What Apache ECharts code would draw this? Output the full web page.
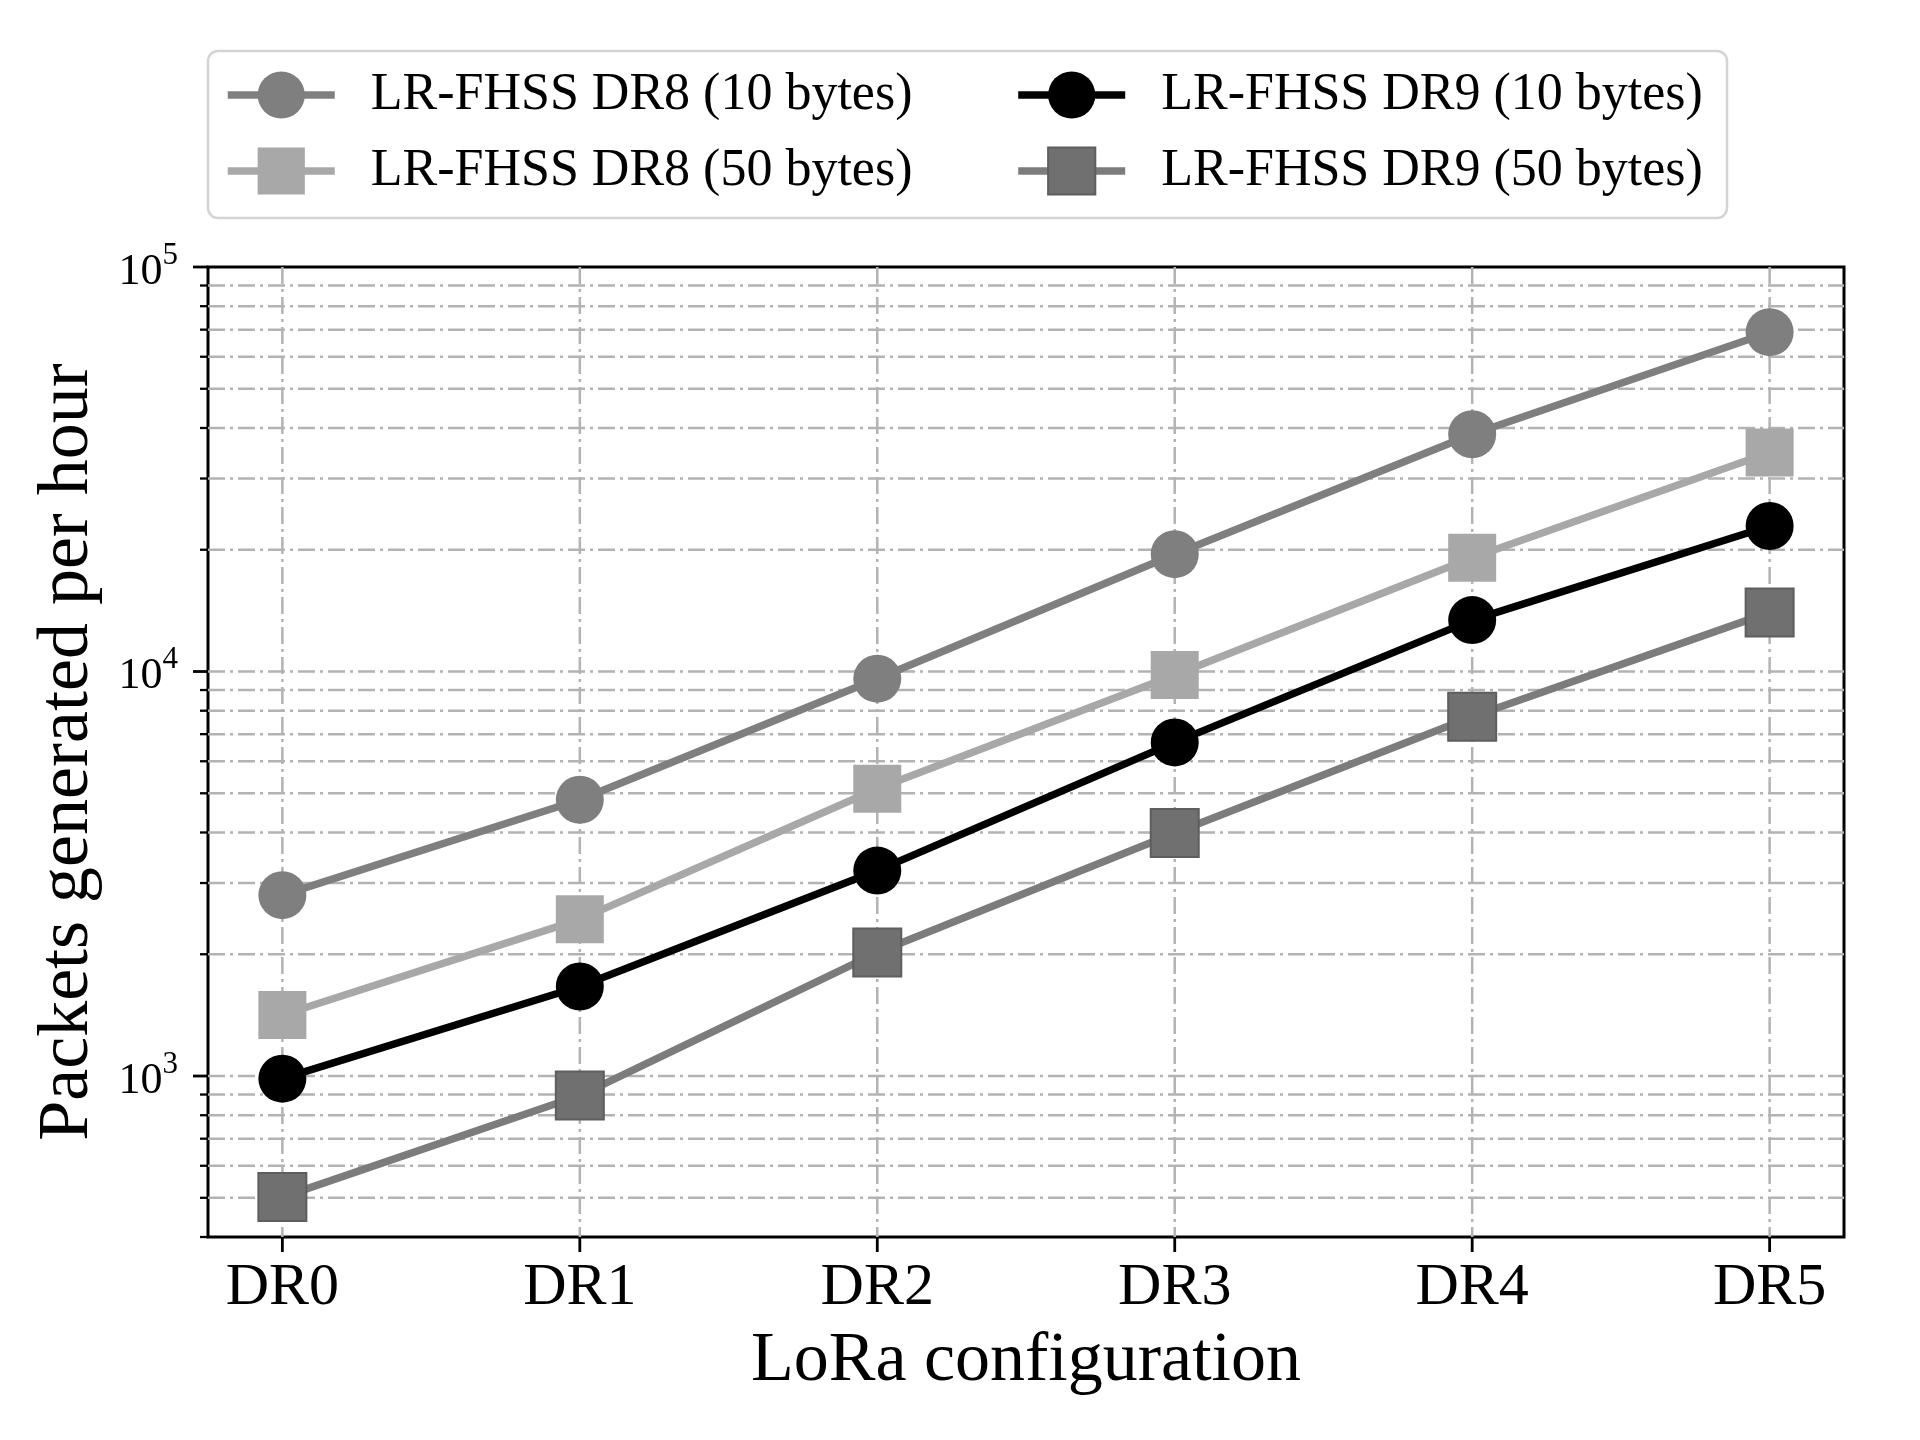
<!DOCTYPE html>
<html><head><meta charset="utf-8">
<script src="https://cdn.jsdelivr.net/npm/echarts@6/dist/echarts.min.js"></script>
<style>html,body{margin:0;padding:0;background:#fff}#c{width:1920px;height:1440px}</style>
</head><body><div id="c"></div>
<script>
const categories = ['DR0', 'DR1', 'DR2', 'DR3', 'DR4', 'DR5'];
const seriesNames = ['LR-FHSS DR8 (10 bytes)', 'LR-FHSS DR8 (50 bytes)', 'LR-FHSS DR9 (10 bytes)', 'LR-FHSS DR9 (50 bytes)'];
const dr8_10 = [2800, 4820, 9600, 19500, 38600, 69000];
const dr8_50 = [1415, 2440, 5130, 9800, 19100, 34800];
const dr9_10 = [985, 1665, 3220, 6680, 13400, 22900];
const dr9_50 = [502, 895, 2020, 3990, 7730, 14000];
const yMajorTicks = [1000, 10000, 100000];
const yMinorTicks = [400, 500, 600, 700, 800, 900, 2000, 3000, 4000, 5000, 6000, 7000, 8000, 9000, 20000, 30000, 40000, 50000, 60000, 70000, 80000, 90000];

const FONT = 'Liberation Serif';
const GRID_COLOR = '#b3b3b3';
const DASH = [17, 5, 3, 5];

function pts(arr) { return arr.map((v, i) => [i, v]); }

function renderH(params, api) {
  const cs = params.coordSys;
  const v = api.value(1);
  const major = api.value(2);
  const y = api.coord([0, v])[1];
  const children = [];
  if (y > cs.y + 2 && y < cs.y + cs.height - 2) {
    children.push({type: 'line', shape: {x1: cs.x, y1: y, x2: cs.x + cs.width, y2: y},
      style: {stroke: GRID_COLOR, lineWidth: 2.5, lineDash: DASH}});
  }
  const len = major ? 15 : 8;
  children.push({type: 'line', shape: {x1: cs.x - len, y1: y, x2: cs.x, y2: y},
    style: {stroke: '#000', lineWidth: major ? 2.8 : 2.3}});
  return {type: 'group', children};
}
function renderV(params, api) {
  const cs = params.coordSys;
  const x = api.coord([api.value(0), 1000])[0];
  return {type: 'group', children: [
    {type: 'line', shape: {x1: x, y1: cs.y, x2: x, y2: cs.y + cs.height},
      style: {stroke: GRID_COLOR, lineWidth: 2.5, lineDash: DASH}},
    {type: 'line', shape: {x1: x, y1: cs.y + cs.height, x2: x, y2: cs.y + cs.height + 15},
      style: {stroke: '#000', lineWidth: 2.8}}
  ]};
}

const legendText = {fontSize: 52, fontFamily: FONT, color: '#000', lineHeight: 46, padding: [0, 0, 0, 31]};
const legendCommon = {left: 224, padding: 0, itemGap: 102, itemWidth: 107, itemHeight: 59,
  textStyle: legendText, lineStyle: {width: 7.5}, z: 5};

const option = {
  animation: false,
  backgroundColor: '#fff',
  grid: {left: 208, top: 267, right: 76, bottom: 203, containLabel: false, outerBoundsMode: 'none',
    show: true, borderColor: '#000', borderWidth: 3, backgroundColor: 'transparent'},
  graphic: [{type: 'rect', z: 1, shape: {x: 208, y: 51, width: 1519, height: 167, r: 10},
    style: {fill: '#fff', stroke: '#d4d4d4', lineWidth: 2.5}}],
  legend: [
    Object.assign({data: [seriesNames[0], seriesNames[2]], top: 69}, legendCommon),
    Object.assign({data: [seriesNames[1], seriesNames[3]], top: 145}, legendCommon)
  ],
  xAxis: {
    type: 'value', min: -0.25, max: 5.25,
    axisLine: {show: false}, axisTick: {show: false}, splitLine: {show: false},
    axisLabel: {fontSize: 60, fontFamily: FONT, color: '#000', margin: 21,
      formatter: v => (Math.abs(v - Math.round(v)) < 1e-6 && categories[Math.round(v)]) ? categories[Math.round(v)] : ''},
    name: 'LoRa configuration', nameLocation: 'middle', nameGap: 90,
    nameTextStyle: {fontSize: 70, fontFamily: FONT, color: '#000'}
  },
  yAxis: {
    type: 'log', logBase: 10, min: 400, max: 100000,
    axisLine: {show: false}, axisTick: {show: false}, splitLine: {show: false}, minorTick: {show: false},
    axisLabel: {margin: 30, color: '#000',
      formatter: v => {
        const l = Math.log10(v), e = Math.round(l);
        if (Math.abs(l - e) > 1e-6) return '';
        return '{b|10}{s|' + e + '}';
      },
      rich: {
        b: {fontSize: 44, fontFamily: FONT, color: '#000', padding: [10, 0, 0, 0]},
        s: {fontSize: 31, fontFamily: FONT, color: '#000', verticalAlign: 'top'}
      }
    },
    name: 'Packets generated per hour', nameLocation: 'middle', nameGap: 104,
    nameTextStyle: {fontSize: 72, fontFamily: FONT, color: '#000'}
  },
  series: [
    {type: 'custom', name: 'hgrid', z: 1, clip: false, silent: true, renderItem: renderH,
      data: yMinorTicks.map(v => [0, v, 0]).concat(yMajorTicks.map(v => [0, v, 1]))},
    {type: 'custom', name: 'vgrid', z: 1, clip: false, silent: true, renderItem: renderV,
      data: categories.map((c, i) => [i, 1000])},
    {type: 'line', name: seriesNames[0], data: pts(dr8_10), z: 3, symbol: 'circle', symbolSize: 48,
      itemStyle: {color: '#7f7f7f'}, lineStyle: {color: '#7f7f7f', width: 7.5}},
    {type: 'line', name: seriesNames[1], data: pts(dr8_50), z: 4, symbol: 'rect', symbolSize: 48,
      itemStyle: {color: '#a8a8a8'}, lineStyle: {color: '#a8a8a8', width: 7.5}},
    {type: 'line', name: seriesNames[2], data: pts(dr9_10), z: 5, symbol: 'circle', symbolSize: 48,
      itemStyle: {color: '#000'}, lineStyle: {color: '#000', width: 7.5}},
    {type: 'line', name: seriesNames[3], data: pts(dr9_50), z: 6, symbol: 'rect', symbolSize: 48,
      itemStyle: {color: '#707070', borderColor: '#5e5e5e', borderWidth: 2}, lineStyle: {color: '#7c7c7c', width: 7.5}}
  ]
};
const chart = echarts.init(document.getElementById('c'));
chart.setOption(option);
</script>
</body></html>
